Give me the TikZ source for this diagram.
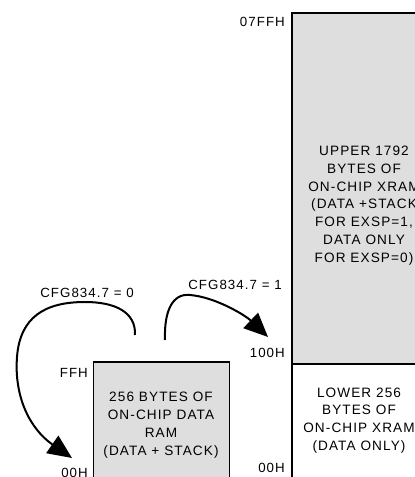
\documentclass[tikz,border=0pt]{standalone}
\usepackage{fontspec}
\setmainfont{Liberation Sans}[LetterSpace=8]
\usetikzlibrary{arrows.meta}
\definecolor{boxgray}{RGB}{222,222,222}
\tikzset{
  memtxt/.style={align=center,font=\fontsize{13.6}{17.8}\selectfont,inner sep=0pt},
  addr/.style={anchor=east,font=\fontsize{13.3}{15}\selectfont,inner sep=0pt},
  cfg/.style={font=\fontsize{13.3}{15}\selectfont,inner sep=0pt},
  flow/.style={line width=2pt,-{Triangle[length=24pt,width=21pt]}},
}
\begin{document}
\begin{tikzpicture}[x=1pt,y=1pt]
\useasboundingbox (0,0) rectangle (415,477);
\clip (0,0) rectangle (415,477);
% boxes
\draw[fill=boxgray,line width=1.5pt] (93.5,-10) rectangle (229.5,115);
\draw[fill=boxgray,line width=2pt] (291.5,113) rectangle (430,464);
\draw[fill=white,line width=2pt] (291.5,-10) rectangle (430,113);
\draw[line width=2.8pt] (291.5,113) -- (430,113);
% box texts
\node[memtxt] (ram) at (161,52) {256 BYTES OF\\ON-CHIP DATA\\RAM\\(DATA + STACK)};
\node[memtxt] (upper) at (364,271.5) {UPPER 1792\\BYTES OF\\ON-CHIP XRAM\\(DATA +STACK\\FOR EXSP=1,\\DATA ONLY\\FOR EXSP=0)};
\node[memtxt] (lower) at (359,56.5) {LOWER 256\\BYTES OF\\ON-CHIP XRAM\\(DATA ONLY)};
% address labels
\node[addr] (a7ff) at (285,455) {07FFH};
\node[addr] (a100) at (285,124) {100H};
\node[addr] (a00r) at (285,9) {00H};
\node[addr] (affl) at (88,104) {FFH};
\node[addr] (a00l) at (88,4) {00H};
% cfg labels
\node[cfg] (c0) at (87,184) {CFG834.7 = 0};
\node[cfg] (c1) at (235,192) {CFG834.7 = 1};
% arrows
\coordinate (s0) at (135,142);
\coordinate (t0) at (72,19);
\coordinate (s1) at (165,137);
\coordinate (t1) at (268,140);
\draw[flow] (s0) .. controls (136,165) and (115,175) .. (85,175)
  .. controls (45,175) and (20,160) .. (17,120)
  .. controls (14,80) and (30,48) .. (t0);
\draw[flow] (s1) .. controls (164,165) and (172,184) .. (190,182)
  .. controls (215,180) and (245,162) .. (t1);
\end{tikzpicture}
\end{document}
